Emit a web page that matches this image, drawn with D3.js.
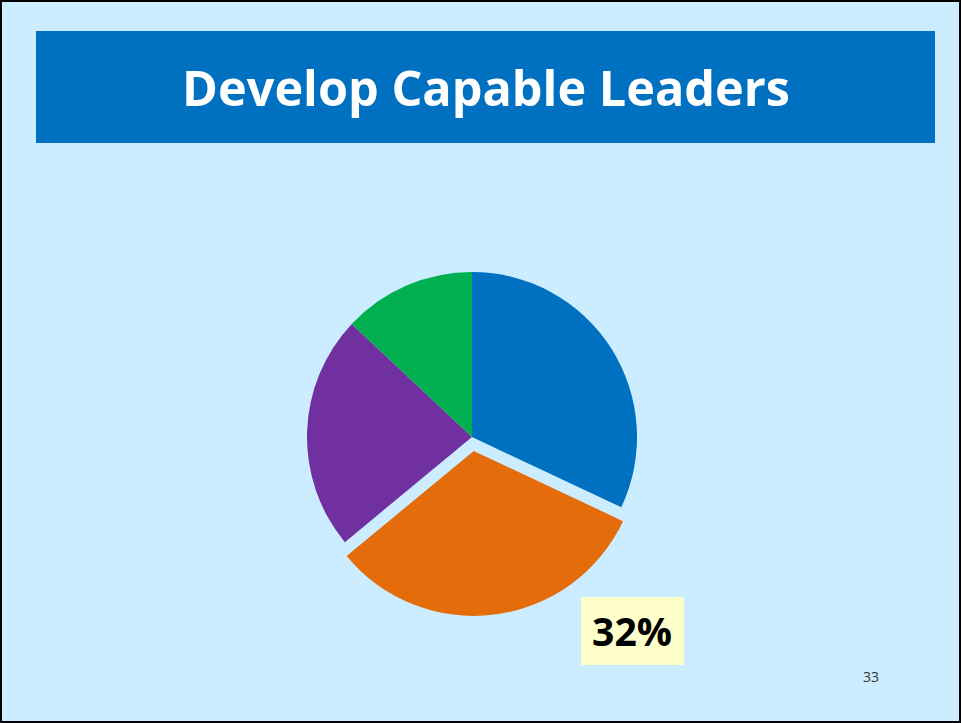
<!DOCTYPE html>
<html>
<head>
<meta charset="utf-8">
<script src="https://cdn.jsdelivr.net/npm/d3@7"></script>
<style>
  html, body { margin: 0; padding: 0; background: #fff; }
  svg { display: block; }
</style>
</head>
<body>
<svg id="chart" width="961" height="723"></svg>
<script>
// Slide data
const titleText = "Develop Capable Leaders";
const categories = ["A", "B", "C", "D"];
const values = [32, 32, 23, 13];
const colors = ["#0070C0", "#E46C0A", "#7030A0", "#00B050"];
const explodedIndex = 1;
const calloutText = "32%";
const pageNumber = "33";

const W = 961, H = 723;
const svg = d3.select("#chart");

// Slide background and frame
svg.append("rect").attr("x", 0).attr("y", 0).attr("width", W).attr("height", H)
  .attr("fill", "#CCECFF");
svg.append("rect").attr("x", 1).attr("y", 1).attr("width", W - 2).attr("height", H - 2)
  .attr("fill", "none").attr("stroke", "#000").attr("stroke-width", 2);

// Title banner
svg.append("rect").attr("x", 36).attr("y", 31).attr("width", 899).attr("height", 112)
  .attr("fill", "#0070C0");
const title = svg.append("text")
  .attr("x", 486).attr("y", 106)
  .attr("text-anchor", "middle")
  .attr("font-family", "'Open Sans', 'Liberation Sans', sans-serif")
  .attr("font-weight", "bold")
  .attr("font-size", 48)
  .attr("fill", "#fff")
  .text(titleText);
// fit title width to the banner text span
const tw = title.node().getComputedTextLength();
title.attr("font-size", 48 * 608 / tw);

// Pie
const cx = 472, cy = 437, R = 165, explode = 14;
const pie = d3.pie().sort(null).value(d => d)(values);
const arc = d3.arc().innerRadius(0).outerRadius(R);
const g = svg.append("g").attr("transform", `translate(${cx},${cy})`);
g.selectAll("path").data(pie).join("path")
  .attr("d", arc)
  .attr("fill", (d, i) => colors[i])
  .attr("transform", (d, i) => {
    if (i !== explodedIndex) return null;
    const a = (d.startAngle + d.endAngle) / 2;
    return `translate(${Math.sin(a) * explode},${-Math.cos(a) * explode})`;
  });

// Callout box
svg.append("rect").attr("x", 581).attr("y", 597).attr("width", 103).attr("height", 68)
  .attr("fill", "#FFFFCC");
const callout = svg.append("text")
  .attr("x", 632).attr("y", 646)
  .attr("text-anchor", "middle")
  .attr("font-family", "'Open Sans', 'Liberation Sans', sans-serif")
  .attr("font-weight", "bold")
  .attr("font-size", 40)
  .attr("fill", "#000")
  .text(calloutText);
const cw = callout.node().getComputedTextLength();
callout.attr("font-size", 40 * 80 / cw);

// Page number
svg.append("text")
  .attr("x", 871).attr("y", 682)
  .attr("text-anchor", "middle")
  .attr("font-family", "'Open Sans', 'Liberation Sans', sans-serif")
  .attr("font-size", 14)
  .attr("fill", "#333")
  .text(pageNumber);
</script>
</body>
</html>
